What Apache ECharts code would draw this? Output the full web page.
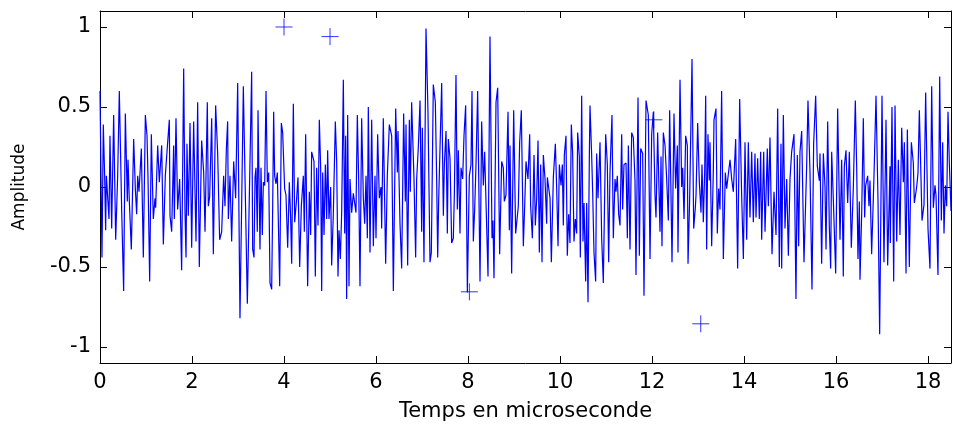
<!DOCTYPE html>
<html>
<head>
<meta charset="utf-8">
<script src="https://cdn.jsdelivr.net/npm/echarts@6/dist/echarts.min.js"></script>
<style>
html,body{margin:0;padding:0;background:#fff;}
#chart{width:953px;height:427px;}
</style>
</head>
<body>
<div id="chart"></div>
<script>
// Signal: time (microseconds) and amplitude
const time = [
0, 0.043, 0.072, 0.101, 0.123, 0.138, 0.167, 0.196, 0.217, 0.254, 0.297, 0.341, 0.384, 0.420, 0.471, 0.514, 0.551, 0.594, 0.609, 0.638, 0.681, 0.732, 0.768, 0.797, 0.819, 0.848, 0.899, 0.942, 0.986, 1.022, 1.043, 1.080, 1.116, 1.159, 1.196, 1.210, 1.254, 1.290, 1.319, 1.341, 1.377, 1.420, 1.449, 1.471, 1.507,
1.522, 1.558, 1.601, 1.616, 1.652, 1.688, 1.732, 1.775, 1.819, 1.848, 1.870, 1.891, 1.920, 1.957, 1.993, 2.036, 2.087, 2.123, 2.159, 2.210, 2.254, 2.283, 2.333, 2.355, 2.384, 2.428, 2.464, 2.514, 2.558, 2.601, 2.645, 2.688, 2.717, 2.746, 2.775, 2.790, 2.826, 2.862, 2.906, 2.949, 2.993, 3.043,
3.080, 3.116, 3.159, 3.203, 3.297, 3.319, 3.348, 3.370, 3.391, 3.420, 3.435, 3.478, 3.500, 3.529, 3.551, 3.580, 3.609, 3.638, 3.667, 3.696, 3.732, 3.754, 3.775, 3.797, 3.826, 3.855, 3.906, 3.942, 3.971, 4.014, 4.043, 4.080, 4.116, 4.145, 4.167, 4.203, 4.232, 4.275, 4.304, 4.341, 4.377, 4.420, 4.442, 4.471, 4.514, 4.551, 4.580, 4.601, 4.652, 4.681, 4.710, 4.739, 4.768, 4.797, 4.819, 4.841, 4.870, 4.899, 4.928, 4.949, 4.978, 5.014, 5.036, 5.072, 5.116, 5.145, 5.174, 5.196, 5.225, 5.254, 5.290, 5.319, 5.341, 5.362, 5.384, 5.413, 5.435, 5.471, 5.507,
5.565, 5.594, 5.623, 5.652, 5.688, 5.725, 5.754, 5.783, 5.812, 5.833, 5.870, 5.906, 5.942, 5.978, 6.000, 6.036, 6.072, 6.109, 6.123, 6.159, 6.210, 6.246, 6.290, 6.341, 6.377, 6.428, 6.464, 6.478, 6.522, 6.558, 6.601, 6.638, 6.652, 6.688, 6.725, 6.746, 6.775, 6.826, 6.862, 6.884, 6.920, 6.957, 6.993, 7.007, 7.043, 7.087, 7.130, 7.174, 7.203, 7.246, 7.290, 7.319, 7.341, 7.362, 7.391, 7.428, 7.464, 7.486, 7.522, 7.551, 7.572, 7.609, 7.645, 7.681, 7.703, 7.739, 7.768, 7.790, 7.826, 7.848,
7.884, 7.913, 7.949, 7.986, 8.029, 8.065, 8.087, 8.116, 8.145, 8.174, 8.210, 8.261, 8.297, 8.333, 8.362, 8.435, 8.478, 8.522, 8.543, 8.565, 8.609, 8.645, 8.688, 8.732, 8.768, 8.790, 8.826, 8.870, 8.899, 8.913, 8.949, 8.993, 9.036, 9.072, 9.094, 9.123, 9.159, 9.203, 9.232, 9.261, 9.304, 9.341, 9.362, 9.399, 9.435, 9.464, 9.493, 9.522, 9.551, 9.580, 9.609, 9.638, 9.674, 9.710, 9.725, 9.783, 9.812, 9.855, 9.899, 9.928, 9.957, 9.986, 10.022, 10.051, 10.072, 10.094, 10.130, 10.159, 10.188, 10.217, 10.246, 10.275,
10.304, 10.333, 10.362, 10.384, 10.420, 10.442, 10.471, 10.500, 10.522, 10.558, 10.580, 10.609, 10.638, 10.652, 10.688, 10.710, 10.739, 10.775, 10.797, 10.826, 10.870, 10.906, 10.942, 10.971, 10.993, 11.029, 11.058, 11.087, 11.130, 11.159, 11.196, 11.217, 11.246, 11.275, 11.304, 11.341, 11.362, 11.391, 11.435, 11.464, 11.486, 11.522, 11.558, 11.594, 11.630, 11.652, 11.696, 11.725, 11.754, 11.797, 11.826, 11.870, 11.920, 11.957, 11.993, 12.029, 12.065, 12.087, 12.123, 12.159, 12.174, 12.196, 12.217, 12.246, 12.283, 12.319, 12.355, 12.384, 12.413, 12.435, 12.478, 12.514, 12.551, 12.565, 12.609,
12.645, 12.667, 12.696, 12.732, 12.768, 12.783, 12.819, 12.870, 12.906, 12.942, 12.957, 12.993, 13.029, 13.065, 13.087, 13.116, 13.145, 13.167, 13.188, 13.217, 13.246, 13.261, 13.297, 13.333, 13.348, 13.391, 13.420, 13.449, 13.478, 13.514, 13.551, 13.594, 13.623, 13.659, 13.696, 13.732, 13.768, 13.819, 13.862, 13.906, 13.949, 13.986, 14.022, 14.058, 14.094, 14.130, 14.167, 14.203, 14.239, 14.261, 14.297, 14.333, 14.362, 14.384, 14.428, 14.457, 14.507, 14.529, 14.565, 14.609, 14.652, 14.696, 14.732, 14.768, 14.804, 14.819, 14.855, 14.891, 14.928, 14.964, 15.000, 15.036, 15.087, 15.130, 15.159, 15.188, 15.217, 15.254, 15.304,
15.362, 15.391, 15.435, 15.478, 15.514, 15.558, 15.594, 15.638, 15.652, 15.688, 15.725, 15.761, 15.783, 15.819, 15.855, 15.884, 15.906, 15.942, 15.993, 16.036, 16.087, 16.123, 16.159, 16.181, 16.217, 16.254, 16.290, 16.333, 16.377, 16.420, 16.449, 16.478, 16.507, 16.522, 16.558, 16.594, 16.623, 16.645, 16.688, 16.717, 16.739, 16.775, 16.826, 16.870, 16.913, 16.949, 17.000, 17.043, 17.087, 17.123, 17.174, 17.181, 17.217, 17.254, 17.283, 17.319, 17.355, 17.391, 17.428, 17.464, 17.486, 17.522, 17.551, 17.594, 17.638, 17.681, 17.703, 17.754, 17.783, 17.812, 17.870, 17.913, 17.949, 18.000, 18.043, 18.080, 18.116, 18.152, 18.174, 18.217, 18.254, 18.290, 18.319, 18.348, 18.377, 18.406, 18.435, 18.464, 18.500
];
const amplitude = [
0.60, -0.44, 0.39, 0.07, -0.27, 0.07, 0.06, -0.20, 0.32, -0.26, 0.45, -0.33, 0.07, 0.60, -0.14, -0.65, 0.46, -0.09, 0.17, -0.09, -0.39, 0.30, -0.01, -0.17, 0.07, -0.03, 0.24, -0.44, 0.45, 0.32, 0.07, -0.59, 0.33, -0.20, -0.07, -0.13, 0.26, 0.03, 0.03, 0.26, -0.36, 0.07, 0.06, 0.28, 0.42,
-0.18, -0.28, 0.26, -0.20, 0.43, -0.14, 0.05, -0.52, 0.74, -0.16, -0.44, 0.27, -0.18, 0.40, -0.38, 0.41, -0.34, 0.53, -0.50, 0.29, 0.09, -0.28, 0.53, -0.12, -0.06, 0.43, -0.42, 0.51, 0.21, -0.33, -0.28, 0.07, -0.12, 0.23, 0.41, -0.20, 0.07, -0.34, 0.16, -0.07, 0.65, -0.82,
-0.10, 0.63, 0.62, -0.73, 0.72, -0.39, -0.44, 0.06, 0.12, -0.28, 0.48, -0.39, 0.12, -0.30, 0.03, 0.01, 0.60, 0.03, 0.09, -0.60, -0.64, -0.12, 0.47, 0.07, 0.02, 0.09, -0.62, 0.40, 0.34, -0.01, -0.05, -0.38, 0.03, -0.20, -0.48, 0.52, -0.22, -0.07, 0.06, -0.50, -0.12, 0.07, -0.28, 0.33, -0.62, -0.03, -0.30, 0.22, 0.16, -0.56, 0.12, -0.24, 0.42, 0.12, -0.65, 0.09, -0.30, 0.14, -0.20, 0.23, -0.20, 0.00, -0.49, -0.17, 0.41, 0.16, -0.56, -0.27, -0.45, -0.16, 0.67, -0.29, 0.32, -0.70, 0.45, -0.62, 0.05, -0.16, -0.04,
-0.16, 0.45, 0.05, -0.62, 0.43, -0.07, -0.23, 0.07, -0.32, 0.50, -0.41, 0.42, -0.37, 0.07, -0.32, 0.33, -0.07, 0.00, -0.26, 0.43, -0.48, 0.07, 0.39, 0.32, -0.65, 0.49, 0.09, 0.35, -0.23, -0.51, 0.46, -0.09, 0.39, -0.49, 0.42, -0.03, 0.53, 0.05, -0.44, 0.05, 0.25, 0.54, -0.28, 0.37, -0.47, 0.99, 0.47, -0.47, -0.41, 0.64, 0.53, 0.04, -0.44, -0.09, -0.09, 0.65, -0.18, 0.14, 0.35, -0.29, 0.30, 0.18, -0.35, -0.32, -0.05, 0.70, -0.14, 0.23, -0.29, 0.12,
0.05, 0.32, 0.51, -0.66, 0.07, 0.14, 0.60, -0.34, -0.14, 0.14, 0.60, -0.59, 0.41, 0.01, 0.22, -0.56, 0.94, -0.32, -0.21, -0.57, 0.53, 0.62, -0.42, 0.16, 0.12, -0.09, -0.05, 0.47, -0.27, 0.26, -0.54, 0.48, -0.29, -0.30, -0.12, 0.28, 0.48, -0.37, -0.12, 0.16, 0.05, 0.33, -0.12, -0.32, 0.20, -0.24, -0.07, 0.29, -0.41, 0.14, -0.47, 0.20, 0.05, -0.23, 0.06, -0.07, -0.47, 0.06, 0.27, -0.01, -0.37, 0.14, 0.01, 0.14, -0.24, 0.20, 0.32, -0.43, -0.17, -0.35, 0.39, 0.21,
-0.34, -0.20, -0.29, 0.34, 0.19, -0.44, 0.57, -0.34, -0.10, -0.59, -0.10, -0.72, 0.19, 0.51, 0.20, -0.03, -0.41, -0.59, 0.21, -0.07, 0.28, -0.32, -0.60, -0.05, 0.33, 0.14, -0.47, 0.09, 0.45, -0.32, 0.05, -0.03, 0.07, -0.17, -0.24, 0.33, -0.14, 0.14, 0.15, -0.32, 0.26, -0.39, 0.34, 0.31, 0.04, -0.55, 0.56, -0.43, 0.24, 0.21, -0.68, 0.54, 0.45, -0.45, 0.33, 0.47, -0.05, -0.19, 0.34, -0.10, -0.28, 0.19, -0.37, 0.34, 0.26, 0.05, -0.21, 0.48, -0.05, -0.47, 0.46, -0.01, 0.26, -0.41, 0.67,
0.00, 0.12, -0.20, 0.32, 0.26, -0.48, -0.07, 0.80, -0.26, -0.13, -0.05, 0.40, 0.03, -0.16, 0.14, -0.22, 0.09, 0.57, -0.39, 0.33, 0.04, 0.28, -0.37, 0.10, 0.42, 0.49, -0.29, -0.01, -0.14, 0.60, -0.45, 0.09, -0.01, -0.01, 0.17, 0.05, -0.03, 0.30, -0.51, 0.55, -0.05, -0.45, 0.28, -0.33, 0.28, -0.19, 0.22, -0.22, 0.21, -0.19, 0.18, -0.20, 0.22, -0.33, 0.22, -0.28, 0.24, -0.12, 0.31, -0.42, -0.03, -0.30, 0.49, -0.50, 0.27, -0.51, 0.45, -0.26, 0.05, -0.43, 0.05, 0.22, 0.33, -0.70, 0.20, -0.37, 0.22, 0.35, -0.47,
0.13, 0.54, 0.09, -0.64, 0.27, 0.57, 0.13, 0.04, 0.21, -0.48, 0.21, 0.00, -0.39, 0.41, -0.25, -0.51, 0.22, -0.08, -0.54, 0.49, -0.33, 0.17, -0.56, 0.13, 0.23, -0.10, 0.22, -0.38, 0.00, 0.54, 0.13, -0.45, -0.09, -0.58, -0.17, 0.43, -0.19, 0.01, 0.07, -0.12, 0.04, -0.42, 0.07, 0.57, -0.08, -0.92, 0.57, -0.47, 0.42, -0.49, 0.13, -0.35, 0.50, -0.59, 0.51, -0.34, 0.17, -0.30, 0.37, 0.03, 0.28, -0.54, 0.36, -0.50, 0.28, 0.15, -0.10, 0.00, 0.09, 0.48, -0.21, -0.11, 0.59, -0.26, -0.51, 0.63, -0.13, 0.01, -0.05, -0.55, 0.69, -0.21, 0.28, -0.29, 0.01, -0.12, 0.47, 0.15, -0.15
];
// '+' markers
const markerTime = [4.0, 5.0, 8.03, 12.04, 13.06];
const markerAmp = [1.0, 0.94, -0.655, 0.42, -0.855];
// Tick values
const xTicks = [0, 2, 4, 6, 8, 10, 12, 14, 16, 18];
const yTicks = [-1, -0.5, 0, 0.5, 1];
const xRange = [0, 18.5];
const yRange = [-1.1, 1.1];

const signal = time.map((t, i) => [t, amplitude[i]]);
const markers = markerTime.map((t, i) => [t, markerAmp[i]]);

const FONT = 'DejaVu Sans';
const black = '#000';
function xAxisDef(pos, withLabels) {
  return {
    type: 'value', position: pos, min: xRange[0], max: xRange[1],
    axisLine: { show: true, onZero: false, lineStyle: { color: black, width: 1 } },
    axisTick: { show: true, inside: true, length: 7, customValues: xTicks, lineStyle: { color: black } },
    axisLabel: withLabels ? { show: true, customValues: xTicks, color: black, fontSize: 21, fontFamily: FONT, margin: 9 } : { show: false },
    splitLine: { show: false },
    name: withLabels ? 'Temps en microseconde' : '',
    nameLocation: 'middle', nameGap: 38,
    nameTextStyle: { color: black, fontSize: 21, fontFamily: FONT }
  };
}
function yAxisDef(pos, withLabels) {
  return {
    type: 'value', position: pos, min: yRange[0], max: yRange[1],
    axisLine: { show: true, onZero: false, lineStyle: { color: black, width: 1 } },
    axisTick: { show: true, inside: true, length: 7, customValues: yTicks, lineStyle: { color: black } },
    axisLabel: withLabels ? { show: true, customValues: yTicks, color: black, fontSize: 21, fontFamily: FONT, margin: 9 } : { show: false },
    splitLine: { show: false },
    name: withLabels ? 'Amplitude' : '',
    nameLocation: 'middle', nameGap: 72, nameRotate: 90,
    nameTextStyle: { color: black, fontSize: 17, fontFamily: FONT }
  };
}

const chart = echarts.init(document.getElementById('chart'), null, { renderer: 'canvas' });
chart.setOption({
  backgroundColor: '#fff',
  animation: false,
  grid: { left: 100, right: 2, top: 11, bottom: 64, containLabel: false },
  xAxis: [xAxisDef('bottom', true), xAxisDef('top', false)],
  yAxis: [yAxisDef('left', true), yAxisDef('right', false)],
  series: [
    {
      type: 'line', xAxisIndex: 0, yAxisIndex: 0, data: signal,
      symbol: 'none', clip: true,
      lineStyle: { color: '#0000ff', width: 1.2 }
    },
    {
      type: 'scatter', xAxisIndex: 0, yAxisIndex: 0, data: markers,
      symbol: 'path://M8,0L8,16M0,8L16,8', symbolSize: 17,
      itemStyle: { color: 'rgba(0,0,0,0)', borderColor: '#0000ff', borderWidth: 1 }
    }
  ]
});
</script>
</body>
</html>
